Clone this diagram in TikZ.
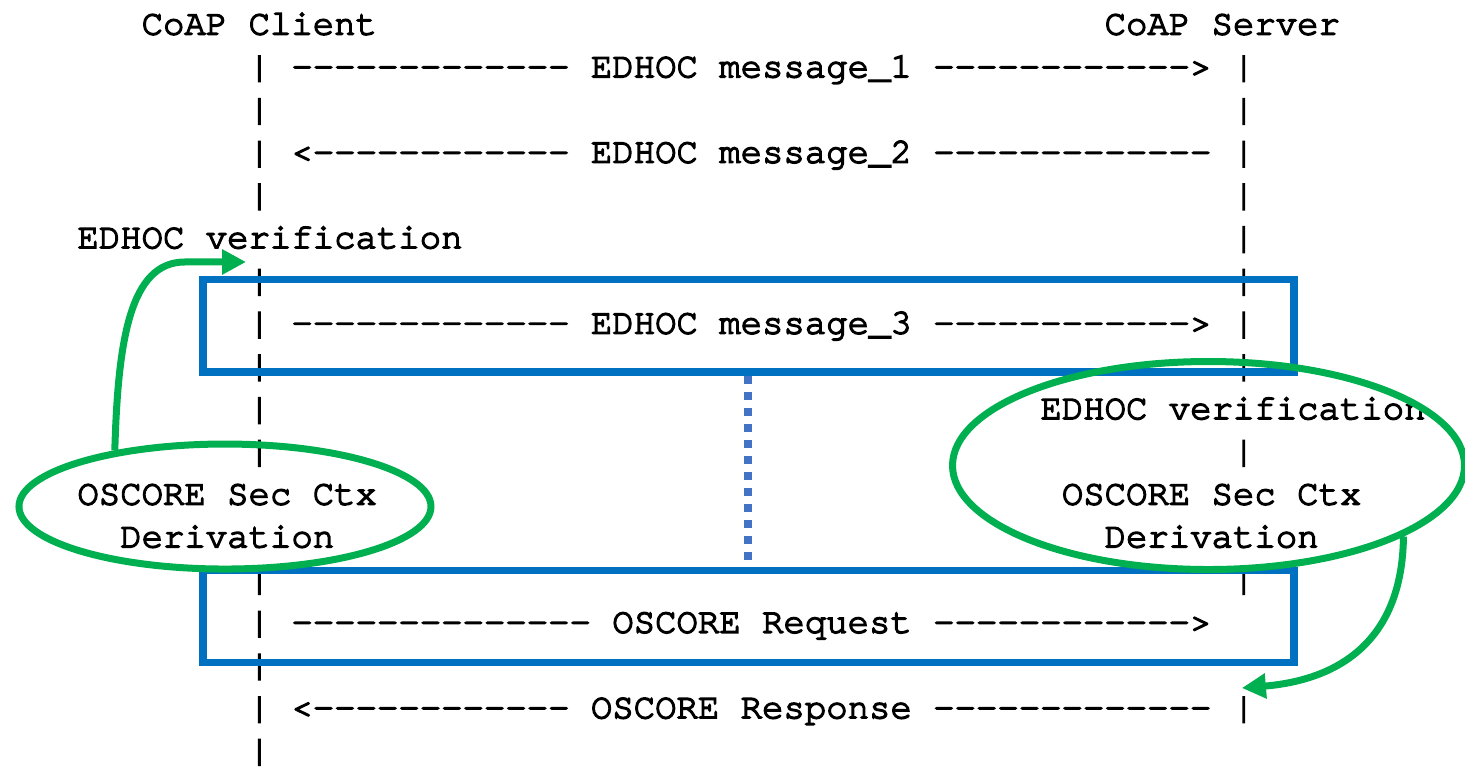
\documentclass[tikz,border=0pt]{standalone}
\usepackage{fontspec}
\newfontfamily\asciifont[Ligatures={TeXOff,CommonOff},FakeBold=4]{texgyrecursor-regular.otf}
\usetikzlibrary{arrows.meta,shapes.geometric}

\definecolor{boxblue}{RGB}{0,112,192}
\definecolor{dotblue}{RGB}{68,114,196}
\definecolor{markgreen}{RGB}{0,176,80}

\begin{document}
\begin{tikzpicture}[x=0.428cm, y=-0.8546cm,
    ascii/.style={anchor=base west, inner sep=0pt, font={\fontsize{20.29}{24}\asciifont}},
    flowbox/.style={draw=boxblue, line width=0.15cm, minimum width=21.82cm,
      minimum height=1.845cm, inner sep=0pt},
    phase/.style={ellipse, draw=markgreen, line width=0.14cm, inner sep=0pt},
    greenarrow/.style={draw=markgreen, line width=0.14cm,
      -{Triangle[length=0.48cm, width=0.48cm]}}]
  % one unit = one character cell / one text row
  \useasboundingbox (-11.603, -1.809) rectangle (56.855, 16.187);

  \node[ascii] (client) at (-5, -1) {CoAP Client};
  \node[ascii] (server) at (40, -1) {CoAP Server};

  % lifelines, a bar on every free row
  \foreach \r in {0,1,2,3,5,6,7,8,9,12,13,14,15,16}
    \node[ascii] (cbar\r) at (0, \r) {|};
  \foreach \r in {0,...,7,9,12,...,16}
    \node[ascii] (sbar\r) at (46, \r) {|};

  % messages
  \node[ascii] (msg1) at (2, 0) {------------- EDHOC message\_1 ------------>};
  \node[ascii] (msg2) at (2, 2) {<------------ EDHOC message\_2 -------------};
  \node[ascii] (msg3) at (2, 6) {------------- EDHOC message\_3 ------------>};
  \node[ascii] (req) at (2, 13) {-------------- OSCORE Request ------------>};
  \node[ascii] (resp) at (2, 15) {<------------ OSCORE Response -------------};

  % client side steps
  \node[ascii] (cverif) at (-8, 4) {EDHOC verification};
  \node[ascii] (cctx) at (-8, 10) {OSCORE Sec Ctx};
  \node[ascii] (cderiv) at (-6, 11) {Derivation};

  % server side steps
  \node[ascii] (sverif) at (37, 8) {EDHOC verification};
  \node[ascii] (sctx) at (38, 10) {OSCORE Sec Ctx};
  \node[ascii] (sderiv) at (40, 11) {Derivation};

  % message_3 and the request go together
  \node[flowbox] (box3) at (23.37, 5.817) {};
  \node[flowbox] (box4) at (23.37, 12.621) {};
  \draw[dotblue, line width=0.16cm, dash pattern=on 0.16cm off 0.16cm]
    (box3.south) -- (box4.north);

  \node[phase, minimum width=8.24cm, minimum height=2.5cm] (lell) at (-1.09, 10.045) {};
  \node[phase, minimum width=10.24cm, minimum height=4.16cm] (rell) at (44.87, 9.085) {};

  \coordinate (cvtip) at (-0.107, 4.322);
  \coordinate (svtip) at (46.43, 14.292);
  \draw[greenarrow] (lell.153) .. controls (-6.089, 6.148) and (-5.528, 4.322)
    .. (-2.96, 4.322) -- (cvtip);
  \draw[greenarrow] (rell.-20) .. controls (53.93, 13.168) and (51.01, 14.1) .. (svtip);
\end{tikzpicture}
\end{document}
